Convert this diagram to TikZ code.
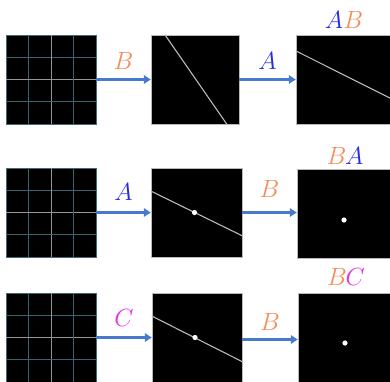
\documentclass[tikz,border=0pt]{standalone}
\usetikzlibrary{arrows.meta,positioning,calc}
\definecolor{a_color}{RGB}{40,40,235}
\definecolor{b_color}{RGB}{245,140,90}
\definecolor{c_color}{RGB}{228,45,228}
\definecolor{arrow_color}{RGB}{72,122,204}
\definecolor{teal_line}{RGB}{55,100,110}
\definecolor{gray_line}{RGB}{150,150,150}
\definecolor{ray_color}{RGB}{185,185,185}
\tikzset{
  frame/.style={
    draw=gray!55, line width=0.5pt, fill=black,
    minimum width=90pt, minimum height=89pt, inner sep=0pt
  },
  gridbox/.style={frame, draw=teal_line!80!gray},
  flow/.style={arrow_color, line width=2.4pt, -{Triangle[length=7pt,width=8.5pt]}},
  lab/.style={font=\Huge, inner sep=0pt},
  ray/.style={ray_color, line width=1.1pt},
  spot/.style={white}
}

\begin{document}
\begin{tikzpicture}[x=1pt,y=-1pt]

\useasboundingbox (0,0) rectangle (390,381);
\begin{scope}
\clip (0,0) rectangle (390,381);

% row 1
\node[gridbox] (grid1) at (51,79.5) {};
\node[frame, minimum width=88pt] (line1) at (195,79.5) {};
\node[frame, minimum width=96pt] (res1) at (344,79.5) {};

% row 2
\node[gridbox] (grid2) at (51,212.5) {};
\node[frame, minimum width=91pt] (line2) at (196.5,212.5) {};
\node[frame, minimum width=96pt] (res2) at (345,213.5) {};

% row 3
\node[gridbox] (grid3) at (51,337.5) {};
\node[frame] (line3) at (197,337.5) {};
\node[frame, minimum width=96pt] (res3) at (346,337.5) {};

% grid lines
\foreach \g in {grid1,grid2,grid3} {
  \foreach \f/\col in {0.25/teal_line,0.5/gray_line,0.75/teal_line} {
    \draw[color=\col, line width=0.8pt] ($(\g.north west)!\f!(\g.north east)$) -- ($(\g.south west)!\f!(\g.south east)$);
    \draw[color=\col, line width=0.8pt] ($(\g.north west)!\f!(\g.south west)$) -- ($(\g.north east)!\f!(\g.south east)$);
  }
}

% rays and spots
\draw[ray] ($(line1.north west)!0.16!(line1.north east)$) -- ($(line1.south west)!0.86!(line1.south east)$);
\draw[ray] ($(res1.north west)!0.18!(res1.south west)$) -- ($(res1.north east)!0.72!(res1.south east)$);
\draw[ray] ($(line2.north west)!0.26!(line2.south west)$) -- ($(line2.north east)!0.76!(line2.south east)$);
\draw[ray] ($(line3.north west)!0.26!(line3.south west)$) -- ($(line3.north east)!0.77!(line3.south east)$);
\fill[spot] ($(line2.center)+(-2,0)$) circle (2.6pt);
\fill[spot] ($(res2.center)+(-1,6.5)$) circle (2.6pt);
\fill[spot] ($(line3.center)+(-2,0)$) circle (2.6pt);
\fill[spot] ($(res3.center)+(-1,5.5)$) circle (2.6pt);

% arrows
\draw[flow] (grid1.east) -- node[lab, midway, above=9pt, text=b_color] {$B$} (line1.west);
\draw[flow] (line1.east) -- node[lab, midway, above=9pt, text=a_color] {$A$} (res1.west);
\draw[flow] (grid2.east) -- node[lab, midway, above=11pt, text=a_color] {$A$} (line2.west);
\draw[flow] (line2.east) -- node[lab, midway, above=14pt, text=b_color] {$B$} (line2.east -| res2.west);
\draw[flow] (grid3.east) -- node[lab, midway, above=10pt, text=c_color] {$C$} (line3.west);
\draw[flow] ($(line3.east)+(0,2)$) -- node[lab, midway, above=8pt, text=b_color] {$B$} ($(res3.west)+(0,2)$);

% products
\node[lab, above=6pt of res1.north] (prod1) {${\color{a_color}A}{\color{b_color}B}$};
\node[lab, above=4pt of res2.north] (prod2) {${\color{b_color}B}\mkern-1mu{\color{a_color}A}$};
\node[lab, above=7pt of res3.north] (prod3) {${\color{b_color}B}\mkern-1mu{\color{c_color}C}$};

\end{scope}
\end{tikzpicture}
\end{document}
